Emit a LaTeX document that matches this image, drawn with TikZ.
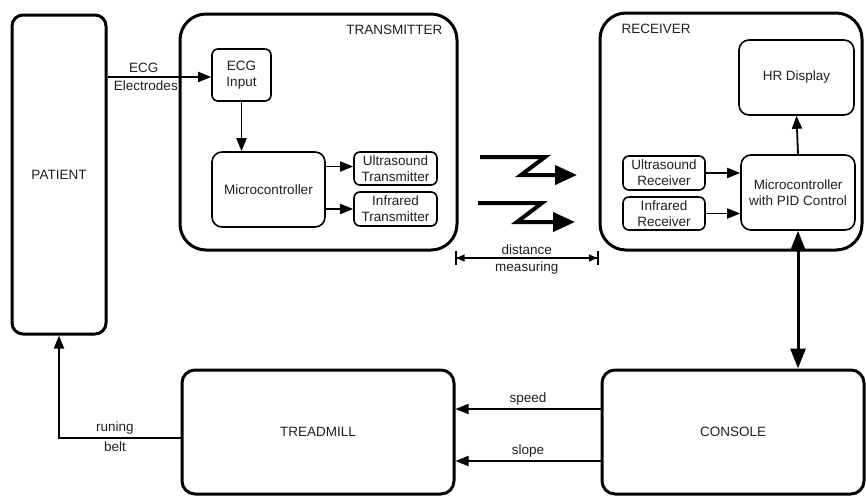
\documentclass[tikz,border=0pt]{standalone}
\usepackage{fontspec}
\setmainfont{Liberation Sans}
\usetikzlibrary{arrows.meta,calc}
\begin{document}
\begin{tikzpicture}[x=1pt,y=-1pt,
  every node/.style={text=black!88, font=\fontsize{13.5}{16}\selectfont},
  bigbox/.style={draw, line width=3pt, inner sep=0pt, align=center},
  smallbox/.style={draw, line width=1.6pt, inner sep=0pt, align=center, rounded corners=6pt},
  arr/.style={line width=1.8pt, -{Triangle[length=13pt,width=10pt]}},
  wave/.style={line width=4pt, -{Triangle[length=22pt,width=19pt]}},
  dbl/.style={line width=3pt, {Triangle[length=20pt,width=15pt]}-{Triangle[length=20pt,width=15pt]}},
  dist/.style={line width=1.2pt, {Bar[width=14pt,line width=1.5pt]Triangle[length=8pt,width=7pt]}-{Triangle[length=8pt,width=7pt]Bar[width=14pt,line width=1.5pt]}},
  lbl/.style={inner sep=3pt}
]
\useasboundingbox (0,0) rectangle (866,496);

% big boxes
\node[bigbox, rounded corners=11pt, minimum width=94pt, minimum height=319pt] (patient) at (59,174.5) {PATIENT};
\node[bigbox, rounded corners=26pt, minimum width=277pt, minimum height=236pt] (txbox) at (318.5,132) {};
\node[bigbox, rounded corners=26pt, minimum width=262pt, minimum height=237pt] (rxbox) at (731,131.5) {};
\node[bigbox, rounded corners=13pt, minimum width=272pt, minimum height=124pt] (treadmill) at (318,432) {TREADMILL};
\node[bigbox, rounded corners=13pt, minimum width=262pt, minimum height=124pt] (console) at (733,432) {CONSOLE};

\node[anchor=north east, inner sep=0pt] (txlabel) at ([xshift=-16pt,yshift=-12pt]txbox.north east) {TRANSMITTER};
\node[anchor=north west, inner sep=0pt] (rxlabel) at ([xshift=23pt,yshift=-12pt]rxbox.north west) {RECEIVER};

% transmitter inner
\node[smallbox, minimum width=59pt, minimum height=52pt] (ecg) at (241.5,75) {ECG\\Input};
\node[smallbox, rounded corners=10pt, minimum width=113pt, minimum height=75pt] (txmc) at (268.5,189.5) {Microcontroller};
\node[smallbox, minimum width=83pt, minimum height=33pt] (ustx) at (395.5,168.5) {Ultrasound\\Transmitter};
\node[smallbox, minimum width=83pt, minimum height=34pt] (irtx) at (395.5,209) {Infrared\\Transmitter};

% receiver inner
\node[smallbox, rounded corners=10pt, minimum width=115pt, minimum height=75pt] (hr) at (796.5,77.5) {HR Display};
\node[smallbox, rounded corners=10pt, minimum width=114pt, minimum height=75pt] (rxmc) at (798,192.5) {Microcontroller\\with PID Control};
\node[smallbox, minimum width=82pt, minimum height=34pt] (usrx) at (664,173) {Ultrasound\\Receiver};
\node[smallbox, minimum width=82pt, minimum height=33pt] (irrx) at (664,213.5) {Infrared\\Receiver};

% connectors
\draw[arr] ([yshift=-2pt]ecg.west -| patient.east) -- node[pos=0.35, above, lbl] {ECG} node[pos=0.37, below, lbl] {Electrodes} ([yshift=-2pt]ecg.west);
\draw[arr] (ecg.south) -- (ecg.south |- txmc.north);
\draw[arr] ([yshift=2pt]ustx.west -| txmc.east) -- ([yshift=2pt]ustx.west);
\draw[arr] (irtx.west -| txmc.east) -- (irtx.west);
\draw[arr] (usrx.east) -- (usrx.east -| rxmc.west);
\draw[arr] (irrx.east) -- (irrx.east -| rxmc.west);
\draw[arr] (rxmc.north) -- (hr.south);
\draw[dbl] (rxmc.south) -- (rxmc.south |- console.north);
\draw[arr] ([yshift=23pt]console.west) -- node[above, lbl] {speed} ([yshift=23pt]console.west -| treadmill.east);
\draw[arr] ([yshift=-29pt]console.west) -- node[above, lbl] {slope} ([yshift=-29pt]console.west -| treadmill.east);
\draw[arr] ([yshift=-6pt]treadmill.west) -| node[pos=0.27, above, lbl] {runing} node[pos=0.27, below, lbl] {belt} (patient.south);

% wireless zigzags
\coordinate (w1a) at (480,157);
\coordinate (w1b) at (577,175);
\coordinate (w2a) at (478,203);
\coordinate (w2b) at (575,222);
\draw[wave] (w1a) -- (545,157) -- (521,175) -- (w1b);
\draw[wave] (w2a) -- (542,203) -- (517,222) -- (w2b);

% distance measuring
\coordinate (dA) at (455,258);
\coordinate (dB) at (rxbox.west |- 0,258);
\draw[dist] (dA) -- node[above, lbl, pos=0.5] {distance} node[below, lbl, pos=0.5] {measuring} (dB);
\end{tikzpicture}
\end{document}
